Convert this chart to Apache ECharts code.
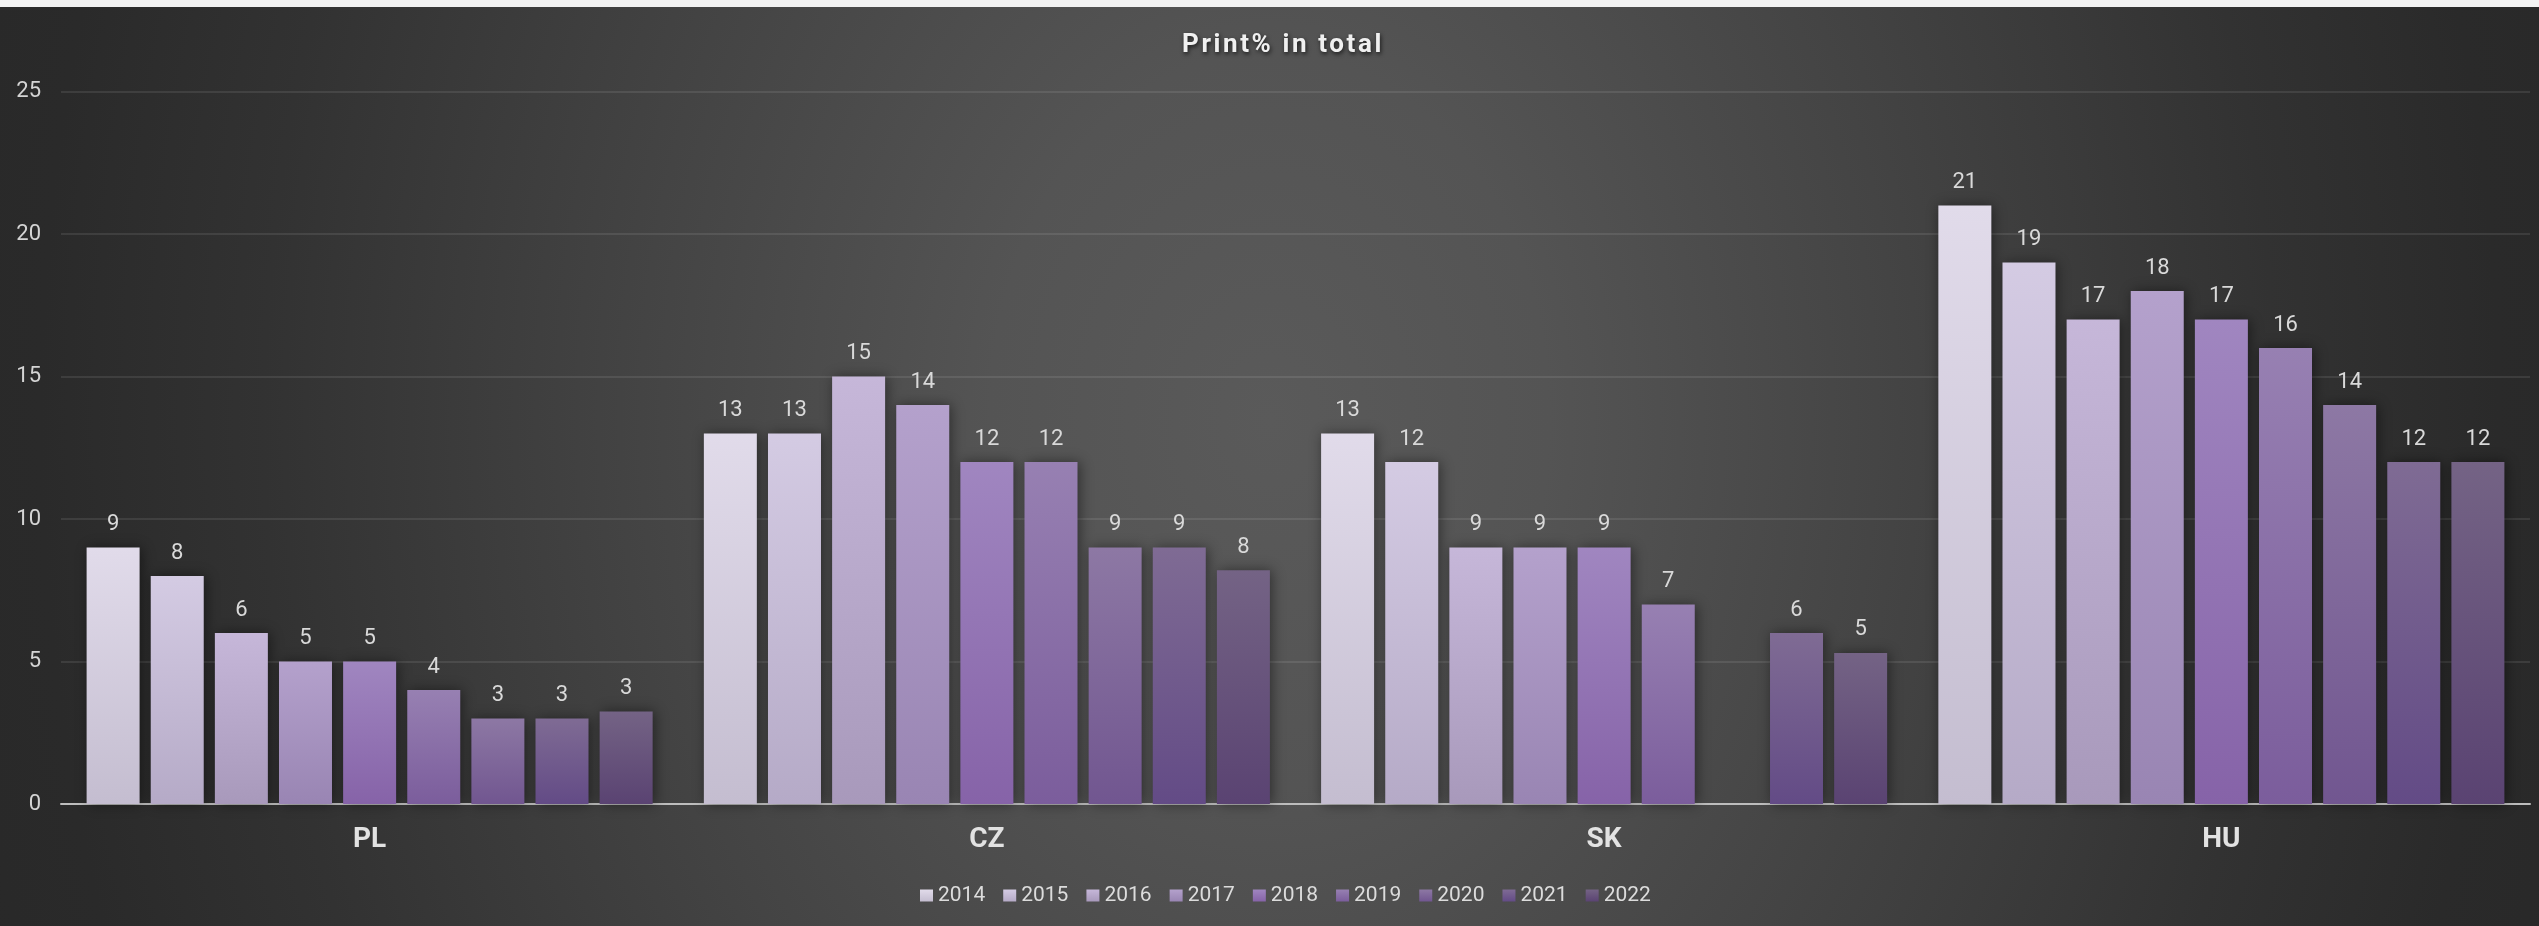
<!DOCTYPE html>
<html>
<head>
<meta charset="utf-8">
<script src="https://cdn.jsdelivr.net/npm/echarts@6/dist/echarts.min.js"></script>
<style>
  html, body { margin: 0; padding: 0; background: #f2f2f2; width: 2539px; height: 926px; overflow: hidden; }
  #chart {
    position: absolute; left: 0; top: 7px; width: 2539px; height: 919px;
    background: radial-gradient(ellipse 55% 200% at 50% 45%, #5a5a5a 0%, #545454 20%, #444444 45%, #323232 72%, #2a2a2a 88%, #282828 100%);
  }
</style>
</head>
<body>
<div id="chart"></div>
<script>
const TITLE = 'Print% in total';
const categories = ['PL', 'CZ', 'SK', 'HU'];
const years = ['2014', '2015', '2016', '2017', '2018', '2019', '2020', '2021', '2022'];
const v2014 = [9, 13, 13, 21];
const v2015 = [8, 13, 12, 19];
const v2016 = [6, 15, 9, 17];
const v2017 = [5, 14, 9, 18];
const v2018 = [5, 12, 9, 17];
const v2019 = [4, 12, 7, 16];
const v2020 = [3, 9, null, 14];
const v2021 = [3, 9, 6, 12];
const v2022 = [3.25, 8.2, 5.3, 12];
const yTicks = [0, 5, 10, 15, 20, 25];

const seriesValues = [v2014, v2015, v2016, v2017, v2018, v2019, v2020, v2021, v2022];
const topColors = ['#e1dbea', '#d4cbe3', '#c6b7d9', '#b4a1cc', '#a086c0', '#9780b2', '#8d78a4', '#7f6b94', '#746385'];
const bottomColors = ['#c4bdd0', '#b5aac7', '#a899bb', '#9985b3', '#8663a8', '#7b5d9c', '#715690', '#634b86', '#5a4372'];

// letter-spaced title (canvas letterSpacing)
const origFill = CanvasRenderingContext2D.prototype.fillText;
CanvasRenderingContext2D.prototype.fillText = function (t, x, y, m) {
  if (t === TITLE && 'letterSpacing' in this) {
    const prev = this.letterSpacing;
    this.letterSpacing = '2.6px';
    const r = m === undefined ? origFill.call(this, t, x, y) : origFill.call(this, t, x, y, m);
    this.letterSpacing = prev;
    return r;
  }
  return m === undefined ? origFill.call(this, t, x, y) : origFill.call(this, t, x, y, m);
};

const chart = echarts.init(document.getElementById('chart'), null, { renderer: 'canvas' });

const series = years.map((y, i) => ({
  name: y,
  type: 'bar',
  data: seriesValues[i],
  barWidth: 53,
  barGap: '21%',
  itemStyle: {
    color: new echarts.graphic.LinearGradient(0, 0, 0, 1, [
      { offset: 0, color: topColors[i] },
      { offset: 1, color: bottomColors[i] }
    ]),
    shadowColor: 'rgba(0,0,0,0.45)',
    shadowBlur: 12,
    shadowOffsetX: 2,
    shadowOffsetY: 0
  },
  label: {
    show: true,
    position: 'top',
    distance: 12,
    color: '#d9d9d9',
    fontFamily: 'Roboto',
    fontSize: 22,
    formatter: p => String(Math.round(p.value))
  },
  emphasis: { disabled: true },
  animation: false
}));

chart.setOption({
  animation: false,
  backgroundColor: 'transparent',
  title: {
    text: TITLE,
    left: 1278,
    top: 20,
    textAlign: 'center',
    textStyle: {
      color: '#f0f0f0',
      fontFamily: 'Roboto',
      fontWeight: 'bold',
      fontSize: 26,
      textShadowColor: 'rgba(0,0,0,0.7)',
      textShadowBlur: 4,
      textShadowOffsetX: 1,
      textShadowOffsetY: 2
    }
  },
  legend: {
    data: years,
    left: 915,
    top: 873,
    itemWidth: 13,
    itemHeight: 12,
    itemGap: 18,
    icon: 'rect',
    textStyle: { color: '#dcdcdc', fontFamily: 'Roboto', fontSize: 21 }
  },
  grid: { left: 61, right: 9, top: 84.5, bottom: 122, containLabel: false },
  xAxis: {
    type: 'category',
    data: categories,
    axisLine: { show: true, lineStyle: { color: '#bdbdbd', width: 2 } },
    axisTick: { show: false },
    axisLabel: {
      color: '#e2e2e2',
      fontFamily: 'Roboto',
      fontWeight: 'bold',
      fontSize: 28,
      margin: 22
    }
  },
  yAxis: {
    type: 'value',
    min: yTicks[0],
    max: yTicks[yTicks.length - 1],
    interval: yTicks[1] - yTicks[0],
    axisLine: { show: false },
    axisTick: { show: false },
    splitLine: { lineStyle: { color: 'rgba(255,255,255,0.09)', width: 2 } },
    axisLabel: {
      color: '#d4d4d4',
      fontFamily: 'Roboto',
      fontSize: 22,
      margin: 20
    }
  },
  series: series
});
</script>
</body>
</html>
